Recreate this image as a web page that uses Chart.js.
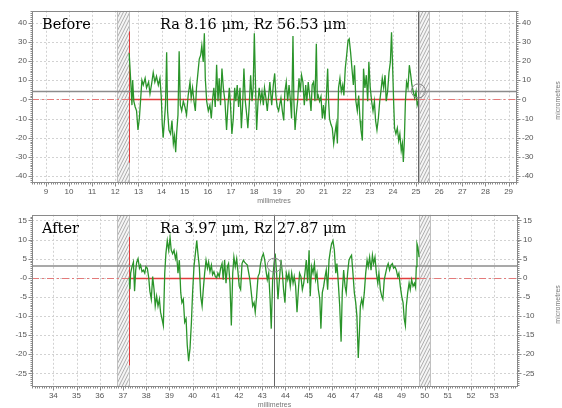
<!DOCTYPE html>
<html><head><meta charset="utf-8">
<script src="https://cdn.jsdelivr.net/npm/chart.js@4"></script>
<style>
html,body{margin:0;padding:0;background:#fff;width:562px;height:408px;overflow:hidden}
canvas{position:absolute;left:0}
#c1{top:0}#c2{top:204px}
</style>
</head><body>
<canvas id="c1" width="562" height="204"></canvas>
<canvas id="c2" width="562" height="204"></canvas>
<script>
// ---- data: [millimetres, micrometres] ----
const beforeProfile = [
[12.60,24],[12.66,11],[12.72,-3],[12.75,10],[12.80,-1],[12.86,-4],[12.92,-6],[12.98,-16],[13.04,-10],[13.09,-1],
[13.15,10],[13.21,7.5],[13.29,11],[13.35,6],[13.44,9],[13.50,3],[13.57,8],[13.64,14],[13.71,9],[13.78,12],
[13.86,7.5],[13.93,11],[13.99,0.7],[14.03,-13],[14.07,-20],[14.13,-10],[14.17,-3],[14.22,24.6],[14.26,-6],[14.32,-16],
[14.39,-18],[14.45,-11],[14.51,-23],[14.56,-19],[14.61,-27.5],[14.65,-18],[14.71,-8],[14.76,25],[14.81,-3],[14.87,-6],
[14.94,-1],[15.01,-4],[15.08,-8],[15.15,2],[15.23,9],[15.28,0.7],[15.34,6],[15.40,-1],[15.46,-6],[15.51,6],
[15.59,16],[15.63,21],[15.69,23],[15.74,28],[15.80,19.5],[15.85,34.5],[15.89,11],[15.95,-1],[16.02,-6],[16.09,-3],
[16.15,-10],[16.21,0.7],[16.26,6],[16.32,-4],[16.38,18],[16.44,-1],[16.49,11],[16.55,-3],[16.61,16],[16.67,6],
[16.74,-1],[16.81,-16],[16.87,-3],[16.93,6],[16.98,-3],[17.04,-18],[17.10,-10],[17.16,6],[17.21,-1],[17.27,7.5],
[17.33,-4],[17.39,6],[17.45,-15],[17.50,-4],[17.56,16],[17.62,-1],[17.68,-8],[17.73,-15],[17.79,-3],[17.85,12.6],
[17.91,-1],[17.96,6],[18.01,34.5],[18.05,12.6],[18.11,-16],[18.17,-1],[18.22,6],[18.28,-1],[18.34,4],[18.40,-3],
[18.45,6],[18.51,0.7],[18.57,-6],[18.63,2],[18.68,9],[18.76,-3],[18.83,7.5],[18.89,13.5],[18.94,2],[19.00,-4],
[19.06,-6],[19.16,0.7],[19.22,-6],[19.28,-11],[19.33,4],[19.39,9],[19.45,-1],[19.51,7.5],[19.56,0.7],[19.62,-10],
[19.68,33],[19.72,-1],[19.77,-16],[19.82,-8],[19.88,-1],[19.94,11],[20.00,4],[20.05,12.6],[20.11,9],[20.17,-3],
[20.23,7.5],[20.28,-1],[20.34,9],[20.40,2],[20.46,-6],[20.51,7.5],[20.57,9],[20.63,-1],[20.69,29],[20.73,0.7],
[20.77,2],[20.83,-1],[20.89,1.5],[20.95,-10],[21.00,-3],[21.06,-10.5],[21.12,0.7],[21.18,16],[21.22,-1],[21.26,-10],
[21.32,-13],[21.38,-15],[21.44,-23],[21.49,-18],[21.55,-13],[21.60,-23],[21.65,6],[21.71,11],[21.77,4],[21.83,7.5],
[21.88,2],[21.94,16],[22.00,23],[22.06,30.6],[22.11,31.5],[22.17,24.6],[22.23,16],[22.29,7.5],[22.34,17.8],[22.40,-1],
[22.46,-6],[22.52,2],[22.58,-11],[22.62,-16],[22.68,-21.5],[22.73,16],[22.79,6],[22.85,12.6],[22.91,-1],[22.96,19.5],
[23.02,6],[23.08,-1],[23.14,-6],[23.20,-1],[23.25,-11],[23.31,-16],[23.37,-10],[23.43,-1],[23.48,4],[23.54,11],
[23.60,6],[23.66,12.6],[23.71,-1],[23.77,4],[23.83,14],[23.89,19.5],[23.94,35],[23.99,16],[24.03,-1],[24.07,-15],
[24.13,-18],[24.19,-15],[24.25,-21.5],[24.30,-18],[24.36,-26.7],[24.41,-23],[24.45,-32.6],[24.49,-23],[24.54,-1],[24.59,9],
[24.65,6],[24.71,17.8],[24.77,12.6],[24.82,7.5],[24.88,4],[24.94,0.7],[25.00,4],[25.05,-3],[25.10,-1]
];
const afterProfile = [
[37.27,0],[37.30,-3],[37.33,1.2],[37.39,2.9],[37.45,4.1],[37.50,-3.5],[37.55,2],[37.59,4],[37.65,5],[37.71,2.5],
[37.76,3.3],[37.82,1.6],[37.88,2],[37.94,1.2],[37.99,2.9],[38.05,2.5],[38.11,0],[38.16,-3.5],[38.22,-5.6],[38.28,0.3],
[38.34,-3.1],[38.39,-7.4],[38.45,-4.8],[38.51,-7.4],[38.57,-5.6],[38.62,-9],[38.68,-10.7],[38.74,-12.5],[38.80,1.2],[38.85,6.3],
[38.91,9.7],[38.97,7.2],[39.03,10.5],[39.08,7.2],[39.14,6.3],[39.20,7.2],[39.26,5],[39.31,6.3],[39.37,1.2],[39.43,4.6],
[39.49,-3.9],[39.54,-6.5],[39.60,-5.6],[39.66,-11.6],[39.72,-10.7],[39.77,-17.6],[39.83,-21.8],[39.89,-18.4],[39.95,-11.6],[40.00,-3.9],
[40.06,2.9],[40.12,6.3],[40.18,9.7],[40.23,6.3],[40.29,2.9],[40.35,-4.8],[40.41,-7.4],[40.46,-3.1],[40.52,1.2],[40.58,4.6],
[40.64,2.5],[40.69,4.1],[40.75,1.6],[40.81,3.3],[40.86,0.8],[40.92,1.6],[40.98,0.3],[41.04,0],[41.09,1.2],[41.15,0.3],
[41.21,2.5],[41.27,3.7],[41.32,-0.5],[41.38,4.6],[41.44,-1.4],[41.50,2.9],[41.55,3.7],[41.61,-1.4],[41.67,-12.5],[41.73,1.2],
[41.78,5.4],[41.84,2.9],[41.90,5],[41.96,1.2],[42.01,-2.2],[42.07,-3.1],[42.13,3.7],[42.19,4.6],[42.24,4.1],[42.30,3.7],
[42.36,3.3],[42.42,1.2],[42.47,-0.5],[42.53,-3.9],[42.59,-7.4],[42.65,-6.5],[42.70,-9],[42.76,-4.8],[42.82,0.3],[42.88,1.2],
[42.93,3.7],[42.99,5.4],[43.05,6.3],[43.11,4.6],[43.16,2],[43.22,-0.5],[43.28,1.2],[43.34,-5.6],[43.39,-13.3],[43.45,-0.5],
[43.51,3.7],[43.56,6.3],[43.62,1.2],[43.68,-5.6],[43.74,-0.5],[43.81,4.6],[43.87,1.2],[43.92,-3.1],[43.98,-6.5],[44.04,1.2],
[44.10,-0.5],[44.15,1.2],[44.21,-2.2],[44.27,1.2],[44.33,-1.4],[44.38,0.3],[44.44,-2.2],[44.50,-9],[44.56,-3.1],[44.61,1.2],
[44.67,0.3],[44.73,-3.1],[44.79,-1.4],[44.84,1.2],[44.90,4.6],[44.96,-1.4],[45.02,7.2],[45.07,-4.8],[45.13,2.9],[45.19,1.2],
[45.25,3.7],[45.30,-0.5],[45.36,1.2],[45.42,-3.1],[45.48,-5.6],[45.53,-13.3],[45.59,-3.9],[45.65,-2.2],[45.71,0.3],[45.76,2],
[45.82,-3.1],[45.88,4.6],[45.94,7.2],[45.99,8.9],[46.05,9.7],[46.11,7.2],[46.17,1.2],[46.22,3.7],[46.28,-1.4],[46.34,-7.4],
[46.40,-16.7],[46.45,-3.9],[46.51,2],[46.57,-2.2],[46.62,-3.9],[46.68,1.2],[46.74,4.6],[46.80,5.4],[46.85,5.9],[46.91,1.2],
[46.97,-3.9],[47.03,-6.5],[47.08,-9.9],[47.14,-21],[47.19,-14.2],[47.23,-7.4],[47.29,-5.6],[47.34,-7.4],[47.40,-3.9],[47.46,1.2],
[47.52,4.6],[47.57,2.9],[47.63,5.4],[47.69,2],[47.75,5.9],[47.80,3.7],[47.86,5.4],[47.92,1.2],[47.98,-1.4],[48.03,1.2],
[48.09,-3.1],[48.15,-4.8],[48.20,-5.6],[48.26,-0.5],[48.32,1.2],[48.38,2.9],[48.43,3.7],[48.49,2],[48.55,3.3],[48.61,3.7],
[48.66,2.5],[48.72,2.9],[48.78,2],[48.84,0.3],[48.89,1.2],[48.95,-2.2],[49.01,-4.8],[49.07,-6.5],[49.12,-10.7],[49.17,-12.5],
[49.21,-7.4],[49.27,-3.9],[49.33,-1.4],[49.38,-3.1],[49.44,-0.5],[49.50,-2.2],[49.56,-1.4],[49.61,-2.6],[49.64,2.9],[49.67,8.9],
[49.71,8],[49.76,5.4]
];
const beforeXTicks = [9,10,11,12,13,14,15,16,17,18,19,20,21,22,23,24,25,26,27,28,29];
const beforeYTicks = [40,30,20,10,0,-10,-20,-30,-40];
const afterXTicks = [34,35,36,37,38,39,40,41,42,43,44,45,46,47,48,49,50,51,52,53];
const afterYTicks = [15,10,5,0,-5,-10,-15,-20,-25];
const panelLabels = ['Before','After'];
const roughnessLabels = ['Ra 8.16 \u03bcm, Rz 56.53 \u03bcm','Ra 3.97 \u03bcm, Rz 27.87 \u03bcm'];
const beforeExcluded = [[12.07,12.60],[25.14,25.57]];
const afterExcluded = [[36.76,37.25],[49.77,50.23]];
const beforeMarks = {start:12.60,end:25.10,startTop:35.4,startBottom:-33,mean:4.1,cursor:25.10,circleY:4.4};
const afterMarks = {start:37.27,end:49.76,startTop:10.7,startBottom:-22.9,mean:3.1,cursor:43.52,circleY:3.3};

function seg(ctx,x0,y0,x1,y1){ctx.beginPath();ctx.moveTo(x0,y0);ctx.lineTo(x1,y1);ctx.stroke();}
const snap = v => Math.round(v)+0.5;

const decor = {
  id:'decor',
  beforeDatasetsDraw(chart,args,o){
    const {ctx,chartArea:a,scales:{x,y}} = chart;
    ctx.save();
    ctx.lineWidth = 1;
    ctx.strokeStyle = '#d2d2d2'; ctx.setLineDash([2,2]);
    o.xTicks.forEach(v=>{const X=snap(x.getPixelForValue(v)); seg(ctx,X,a.top,X,a.bottom);});
    o.yTicks.forEach(v=>{const Y=snap(y.getPixelForValue(v)); seg(ctx,a.left,Y,a.right,Y);});
    ctx.setLineDash([]);
    o.excluded.forEach(([h0,h1])=>{
      const x0=x.getPixelForValue(h0), x1=x.getPixelForValue(h1), H=a.bottom-a.top;
      ctx.save();
      ctx.beginPath(); ctx.rect(x0,a.top,x1-x0,H); ctx.clip();
      ctx.fillStyle='#f5f5f5'; ctx.fill();
      ctx.strokeStyle='#adadad';
      for(let k=x0-H;k<x1+2;k+=3.2){ seg(ctx,k,a.bottom,k+H*0.5,a.top); }
      ctx.restore();
      ctx.strokeStyle='#c0c0c0';
      seg(ctx,snap(x0),a.top,snap(x0),a.bottom);
      seg(ctx,snap(x1),a.top,snap(x1),a.bottom);
    });
    const m=o.marks;
    const Y0=snap(y.getPixelForValue(0));
    const xs=x.getPixelForValue(m.start), xe=x.getPixelForValue(m.end);
    ctx.strokeStyle='#e47a7a'; ctx.setLineDash([7,3,2,3]);
    seg(ctx,a.left,Y0,xs,Y0);
    seg(ctx,xe,Y0,a.right,Y0);
    ctx.setLineDash([]);
    ctx.strokeStyle='#e23c3c'; ctx.lineWidth=1.3;
    seg(ctx,xs,Y0,xe,Y0);
    ctx.lineWidth=1;
    const XS=snap(xs);
    seg(ctx,XS,y.getPixelForValue(m.startTop),XS,y.getPixelForValue(m.startBottom));
    ctx.strokeStyle='#8c8c8c'; ctx.lineWidth=1.5;
    const YM=y.getPixelForValue(m.mean);
    seg(ctx,a.left,YM,a.right,YM);
    ctx.restore();
  },
  afterDatasetsDraw(chart,args,o){
    const {ctx,chartArea:a,scales:{x,y}} = chart;
    const m=o.marks;
    ctx.save();
    ctx.lineWidth=1;
    ctx.strokeStyle='#666';
    const XC=snap(x.getPixelForValue(m.cursor));
    seg(ctx,XC,a.top,XC,a.bottom);
    ctx.strokeStyle='#8a8a8a';
    ctx.beginPath(); ctx.arc(x.getPixelForValue(m.cursor),y.getPixelForValue(m.circleY),7,0,Math.PI*2); ctx.stroke();
    ctx.strokeStyle='#8a8a8a';
    ctx.strokeRect(snap(a.left),snap(a.top),Math.round(a.right-a.left),Math.round(a.bottom-a.top));
    const B=Math.round(a.bottom)+0.5;
    for(let i=Math.ceil(x.min*10);i<=Math.floor(x.max*10);i++){
      const X=snap(x.getPixelForValue(i/10));
      const major=i%10===0;
      seg(ctx,X,B,X,B+(major?4:2));
    }
    const st=o.yMinor, n0=Math.ceil(y.min/st), n1=Math.floor(y.max/st);
    const L=Math.round(a.left)+0.5, R=Math.round(a.right)+0.5;
    for(let i=n0;i<=n1;i++){
      const v=i*st, Y=snap(y.getPixelForValue(v));
      const len=o.yTicks.includes(v)?4:2;
      seg(ctx,L-len,Y,L,Y);
      seg(ctx,R,Y,R+len,Y);
    }
    ctx.fillStyle='#000';
    ctx.font="14.5px 'DejaVu Serif'";
    ctx.textBaseline='alphabetic'; ctx.textAlign='left';
    ctx.fillText(o.name,a.left+10,a.top+18.5);
    ctx.fillText(o.stats,a.left+128,a.top+18.5);
    ctx.fillStyle='#777';
    ctx.font="7px 'Liberation Sans'";
    ctx.textAlign='center'; ctx.textBaseline='middle';
    ctx.fillText('millimetres',(a.left+a.right)/2,chart.height-2.5);
    ctx.translate(558.5,(a.top+a.bottom)/2+4);
    ctx.rotate(-Math.PI/2);
    ctx.fillText('micrometres',0,0);
    ctx.restore();
  }
};

function makeChart(id,profile,c){
  const tickFont={size:8,family:"'Liberation Sans'"};
  const common={grid:{display:false,drawTicks:false},border:{display:false}};
  return new Chart(document.getElementById(id),{
    type:'scatter',
    data:{datasets:[{data:profile.map(([mm,um])=>({x:mm,y:um})),showLine:true,
      borderColor:'#2a942a',borderWidth:1.3,pointRadius:0,tension:0}]},
    options:{
      responsive:false,animation:false,devicePixelRatio:1,
      layout:{padding:{top:c.padTop,left:0,right:0,bottom:0}},
      plugins:{legend:{display:false},tooltip:{enabled:false},
        decor:{xTicks:c.xTicks,yTicks:c.yTicks,excluded:c.excluded,marks:c.marks,yMinor:c.yMinor,name:c.name,stats:c.stats}},
      scales:{
        x:{...common,type:'linear',position:'bottom',min:c.xMin,max:c.xMax,
          afterFit(s){s.height=22;},
          afterBuildTicks(s){s.ticks=c.xTicks.map(v=>({value:v}));},
          ticks:{autoSkip:false,maxRotation:0,minRotation:0,padding:5,color:'#555',font:tickFont}},
        y:{...common,type:'linear',position:'left',min:c.yMin,max:c.yMax,
          afterFit(s){s.width=32;},
          afterBuildTicks(s){s.ticks=c.yTicks.map(v=>({value:v}));},
          ticks:{autoSkip:false,padding:5,color:'#555',font:tickFont,callback:v=>v===0?'-0':String(v)}},
        y2:{...common,type:'linear',position:'right',min:c.yMin,max:c.yMax,display:true,
          afterFit(s){s.width=c.rightW;},
          afterBuildTicks(s){s.ticks=c.yTicks.map(v=>({value:v}));},
          ticks:{autoSkip:false,padding:6,color:'#555',font:tickFont,callback:v=>String(v)}}
      }
    },
    plugins:[decor]
  });
}

makeChart('c1',beforeProfile,{padTop:8,rightW:46,xMin:8.4,xMax:29.32,yMin:-43.08,yMax:46.15,
  xTicks:beforeXTicks,yTicks:beforeYTicks,excluded:beforeExcluded,marks:beforeMarks,yMinor:1,
  name:panelLabels[0],stats:roughnessLabels[0]});
makeChart('c2',afterProfile,{padTop:7,rightW:45,xMin:33.08,xMax:53.98,yMin:-28.3,yMax:16.46,
  xTicks:afterXTicks,yTicks:afterYTicks,excluded:afterExcluded,marks:afterMarks,yMinor:0.5,
  name:panelLabels[1],stats:roughnessLabels[1]});
</script>
</body></html>
